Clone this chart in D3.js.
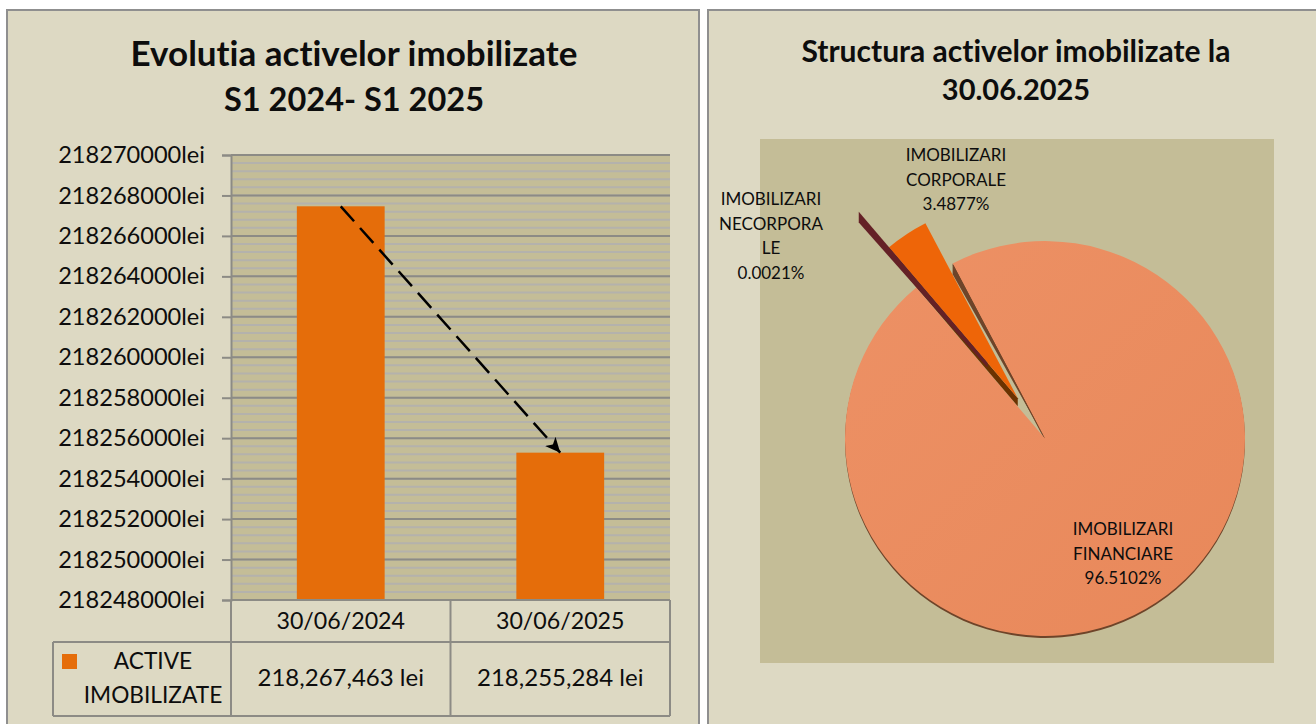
<!DOCTYPE html>
<html>
<head>
<meta charset="utf-8">
<script src="https://cdn.jsdelivr.net/npm/d3@7"></script>
<style>
  html, body { margin: 0; padding: 0; background: #fff; }
  svg { display: block; }
  text { font-family: Lato, "Open Sans", sans-serif; fill: #0d0d0d; font-variant-ligatures: none; }
</style>
</head>
<body>
<div id="chart"></div>
<script>
// bar chart data
var barCategories = ["30/06/2024", "30/06/2025"];
var barValues = [218267463, 218255284];
var barValueLabels = ["218,267,463 lei", "218,255,284 lei"];
var barSeriesName = ["ACTIVE", "IMOBILIZATE"];
var yTickValues = [218248000, 218250000, 218252000, 218254000, 218256000, 218258000,
  218260000, 218262000, 218264000, 218266000, 218268000, 218270000];

// pie chart data, clockwise from the cut next to the corporale slice
var pieNames = [["IMOBILIZARI", "FINANCIARE"], ["IMOBILIZARI", "NECORPORA", "LE"], ["IMOBILIZARI", "CORPORALE"]];
var pieValues = [96.5102, 0.0021, 3.4877];

var titleLeft = ["Evolutia activelor imobilizate", "S1 2024- S1 2025"];
var titleRight = ["Structura activelor imobilizate la", "30.06.2025"];

var svgWidth = 1316;
var svgHeight = 724;

var svg = d3.select("#chart")
  .append("svg")
  .attr("width", svgWidth)
  .attr("height", svgHeight);

// Panels
var panelFill = "#DDD9C3";
var panelStroke = "#8F8F8F";
svg.append("rect").attr("x", 7).attr("y", 10).attr("width", 692).attr("height", 730)
  .attr("fill", panelFill).attr("stroke", panelStroke).attr("stroke-width", 2);
svg.append("rect").attr("x", 708).attr("y", 10).attr("width", 640).attr("height", 730)
  .attr("fill", panelFill).attr("stroke", panelStroke).attr("stroke-width", 2);

// Titles (digits run wide in this font, so the second lines are a bit smaller)
svg.selectAll(".titleLeft").data(titleLeft).join("text")
  .attr("class", "titleLeft")
  .attr("x", 354)
  .attr("y", (d, i) => 66 + i * 45)
  .attr("text-anchor", "middle")
  .attr("font-size", (d, i) => i === 0 ? "35px" : "32.5px")
  .attr("font-weight", "700")
  .text(d => d);

svg.selectAll(".titleRight").data(titleRight).join("text")
  .attr("class", "titleRight")
  .attr("x", 1016)
  .attr("y", (d, i) => 62 + i * 38)
  .attr("text-anchor", "middle")
  .attr("font-size", (d, i) => i === 0 ? "30px" : "29px")
  .attr("font-weight", "700")
  .text(d => d);

// ---- Bar chart ----
var plot = { left: 231, right: 670, top: 155, bottom: 600 };

var xScale = d3.scaleBand()
  .domain(barCategories)
  .range([plot.left, plot.right])
  .paddingInner(0.6)
  .paddingOuter(0.3);

var yScale = d3.scaleLinear()
  .domain([yTickValues[0], yTickValues[yTickValues.length - 1]])
  .range([plot.bottom, plot.top]);

svg.append("rect")
  .attr("x", plot.left).attr("y", plot.top)
  .attr("width", plot.right - plot.left).attr("height", plot.bottom - plot.top)
  .attr("fill", "#C4BD97");

// minor gridlines every 400 lei
svg.append("g").selectAll("line")
  .data(d3.range(yScale.domain()[0], yScale.domain()[1], 400))
  .join("line")
  .attr("x1", plot.left).attr("x2", plot.right)
  .attr("y1", d => yScale(d)).attr("y2", d => yScale(d))
  .attr("stroke", "#B4B2AC")
  .attr("stroke-width", 2);

// major gridlines
svg.append("g").selectAll("line")
  .data(yTickValues)
  .join("line")
  .attr("x1", plot.left).attr("x2", plot.right)
  .attr("y1", d => yScale(d)).attr("y2", d => yScale(d))
  .attr("stroke", "#8C8B85")
  .attr("stroke-width", 2);

svg.append("g").selectAll("rect")
  .data(barValues)
  .join("rect")
  .attr("x", (d, i) => xScale(barCategories[i]))
  .attr("y", d => yScale(d))
  .attr("width", xScale.bandwidth())
  .attr("height", d => plot.bottom - yScale(d))
  .attr("fill", "#E56D0A");

// y axis
var leftAxis = d3.axisLeft(yScale)
  .tickValues(yTickValues)
  .tickSize(9)
  .tickPadding(17)
  .tickFormat(d => d + "lei");

var yAxisGroup = svg.append("g")
  .attr("transform", `translate(${plot.left}, 0)`)
  .call(leftAxis);
yAxisGroup.selectAll("text").attr("font-size", "23.6px").attr("font-family", "Lato").attr("fill", "#0d0d0d");
yAxisGroup.selectAll("line").attr("stroke", "#8C8B85").attr("stroke-width", 2);
yAxisGroup.select(".domain").attr("stroke", "#8C8B85").attr("stroke-width", 2);

// data table under the plot
var table = { left: 53, rowTop: 642, bottom: 716 };
var tableEdges = [plot.left, plot.left + xScale.step(), plot.right];
var tableStroke = "#8C8B85";
var tableG = svg.append("g").attr("stroke", tableStroke).attr("stroke-width", 2);
tableG.selectAll(".v").data(tableEdges).join("line").attr("class", "v")
  .attr("x1", d => d).attr("x2", d => d).attr("y1", plot.bottom).attr("y2", table.bottom);
tableG.append("line").attr("x1", table.left).attr("x2", table.left).attr("y1", table.rowTop).attr("y2", table.bottom);
tableG.selectAll(".h").data([[plot.left, plot.bottom], [table.left, table.rowTop], [table.left, table.bottom]]).join("line").attr("class", "h")
  .attr("x1", d => d[0]).attr("x2", plot.right).attr("y1", d => d[1]).attr("y2", d => d[1]);

svg.selectAll(".cat").data(barCategories).join("text").attr("class", "cat")
  .attr("x", d => xScale(d) + xScale.bandwidth() / 2)
  .attr("y", 629)
  .attr("text-anchor", "middle")
  .attr("font-size", "23.2px")
  .text(d => d);

svg.selectAll(".val").data(barValueLabels).join("text").attr("class", "val")
  .attr("x", (d, i) => xScale(barCategories[i]) + xScale.bandwidth() / 2)
  .attr("y", 686)
  .attr("text-anchor", "middle")
  .attr("font-size", "24px")
  .text(d => d);

svg.append("rect").attr("x", 62).attr("y", 654).attr("width", 15).attr("height", 15).attr("fill", "#E56D0A");
svg.selectAll(".series").data(barSeriesName).join("text").attr("class", "series")
  .attr("x", 153)
  .attr("y", (d, i) => 669 + i * 34)
  .attr("text-anchor", "middle")
  .attr("font-size", "22.7px")
  .text(d => d);

// dashed trend arrow between the bar tops
var defs = svg.append("defs");
defs.append("marker")
  .attr("id", "stealth")
  .attr("viewBox", "0 0 16 16")
  .attr("refX", 15).attr("refY", 8)
  .attr("markerWidth", 16).attr("markerHeight", 16)
  .attr("markerUnits", "userSpaceOnUse")
  .attr("orient", "auto")
  .append("path")
  .attr("d", "M15,8 L0,1 L4,8 L0,15 Z")
  .attr("fill", "#000");

svg.append("path")
  .attr("d", d3.line()
    .x((d, i) => xScale(barCategories[i]) + xScale.bandwidth() / 2)
    .y(d => yScale(d))(barValues))
  .attr("fill", "none")
  .attr("stroke", "#000")
  .attr("stroke-width", 2.5)
  .attr("stroke-dasharray", "20,9")
  .attr("marker-end", "url(#stealth)");

// ---- Pie chart ----
svg.append("rect").attr("x", 760).attr("y", 139).attr("width", 514).attr("height", 524).attr("fill", "#C4BD97");

var pieCenter = [1045, 438.5];
var pieRadius = 200;
var pieColors = ["url(#pieShade)", "#7A2A2A", "#EE6508"];
var wallColors = ["#6E4429", "#642126", "#6B3200"];
var wallDepth = [11, 11, 8];

var shade = defs.append("linearGradient").attr("id", "pieShade")
  .attr("x1", 0).attr("y1", 0).attr("x2", 1).attr("y2", 1);
shade.append("stop").attr("offset", "0%").attr("stop-color", "#ED9165");
shade.append("stop").attr("offset", "100%").attr("stop-color", "#E8885A");

var pieLayout = d3.pie()
  .sort(null)
  .startAngle(-27.5 * Math.PI / 180)
  .endAngle((360 - 27.5) * Math.PI / 180);
var arcs = pieLayout(pieValues);
var arcGen = d3.arc().innerRadius(0).outerRadius(pieRadius);

// squashed slightly, the original is a tilted 3D pie
var pieG = svg.append("g").attr("transform", `translate(${pieCenter[0]}, ${pieCenter[1]}) scale(1, 0.987)`);

// the corporale slice is pulled out along its middle, the tiny slice slides on along its edge
var corpExplode = 49;
var necorpSlide = 47;
function sliceOrigin(i) {
  if (i === 0) return [0, 0];
  var mid = (arcs[2].startAngle + arcs[2].endAngle) / 2;
  var corp = [Math.sin(mid) * corpExplode, -Math.cos(mid) * corpExplode];
  if (i === 2) return corp;
  var edge = arcs[1].startAngle;
  return [corp[0] + Math.sin(edge) * necorpSlide, corp[1] - Math.cos(edge) * necorpSlide];
}

// wall along the cut edge of a slice, tapering to the tip
function wallPath(i, angle, tipDepth) {
  var o = sliceOrigin(i);
  var ox = o[0] + Math.sin(angle) * pieRadius;
  var oy = o[1] - Math.cos(angle) * pieRadius;
  return d3.line()([
    [ox, oy],
    [o[0], o[1]],
    [o[0], o[1] + tipDepth],
    [ox, oy + wallDepth[i]]
  ]) + "Z";
}

// rim under the big slice
pieG.append("path")
  .attr("transform", "translate(0, 2)")
  .attr("d", arcGen(arcs[0]))
  .attr("fill", wallColors[0]);

pieG.append("path")
  .attr("d", arcGen(arcs[0]))
  .attr("fill", pieColors[0]);

pieG.append("path")
  .attr("d", wallPath(0, arcs[0].startAngle, 0))
  .attr("fill", wallColors[0]);

pieG.append("path")
  .attr("d", wallPath(2, arcs[2].startAngle, 8))
  .attr("fill", wallColors[2]);

pieG.append("path")
  .attr("d", arcGen(arcs[2]))
  .attr("transform", `translate(${sliceOrigin(2)})`)
  .attr("fill", pieColors[2]);

pieG.append("path")
  .attr("d", arcGen(arcs[1]))
  .attr("transform", `translate(${sliceOrigin(1)})`)
  .attr("fill", pieColors[1]);

pieG.append("path")
  .attr("d", wallPath(1, arcs[1].startAngle, 5))
  .attr("fill", wallColors[1]);

// pie labels
var pieLabelPos = [[1123, 535], [771, 205], [956, 161]];
var lineGap = 24.5;
pieNames.forEach((lines, i) => {
  var allLines = lines.concat([pieValues[i].toFixed(4) + "%"]);
  svg.append("g").selectAll("text")
    .data(allLines)
    .join("text")
    .attr("x", pieLabelPos[i][0])
    .attr("y", (d, j) => pieLabelPos[i][1] + j * lineGap)
    .attr("text-anchor", "middle")
    .attr("font-size", "17px")
    .text(d => d);
});
</script>
</body>
</html>
